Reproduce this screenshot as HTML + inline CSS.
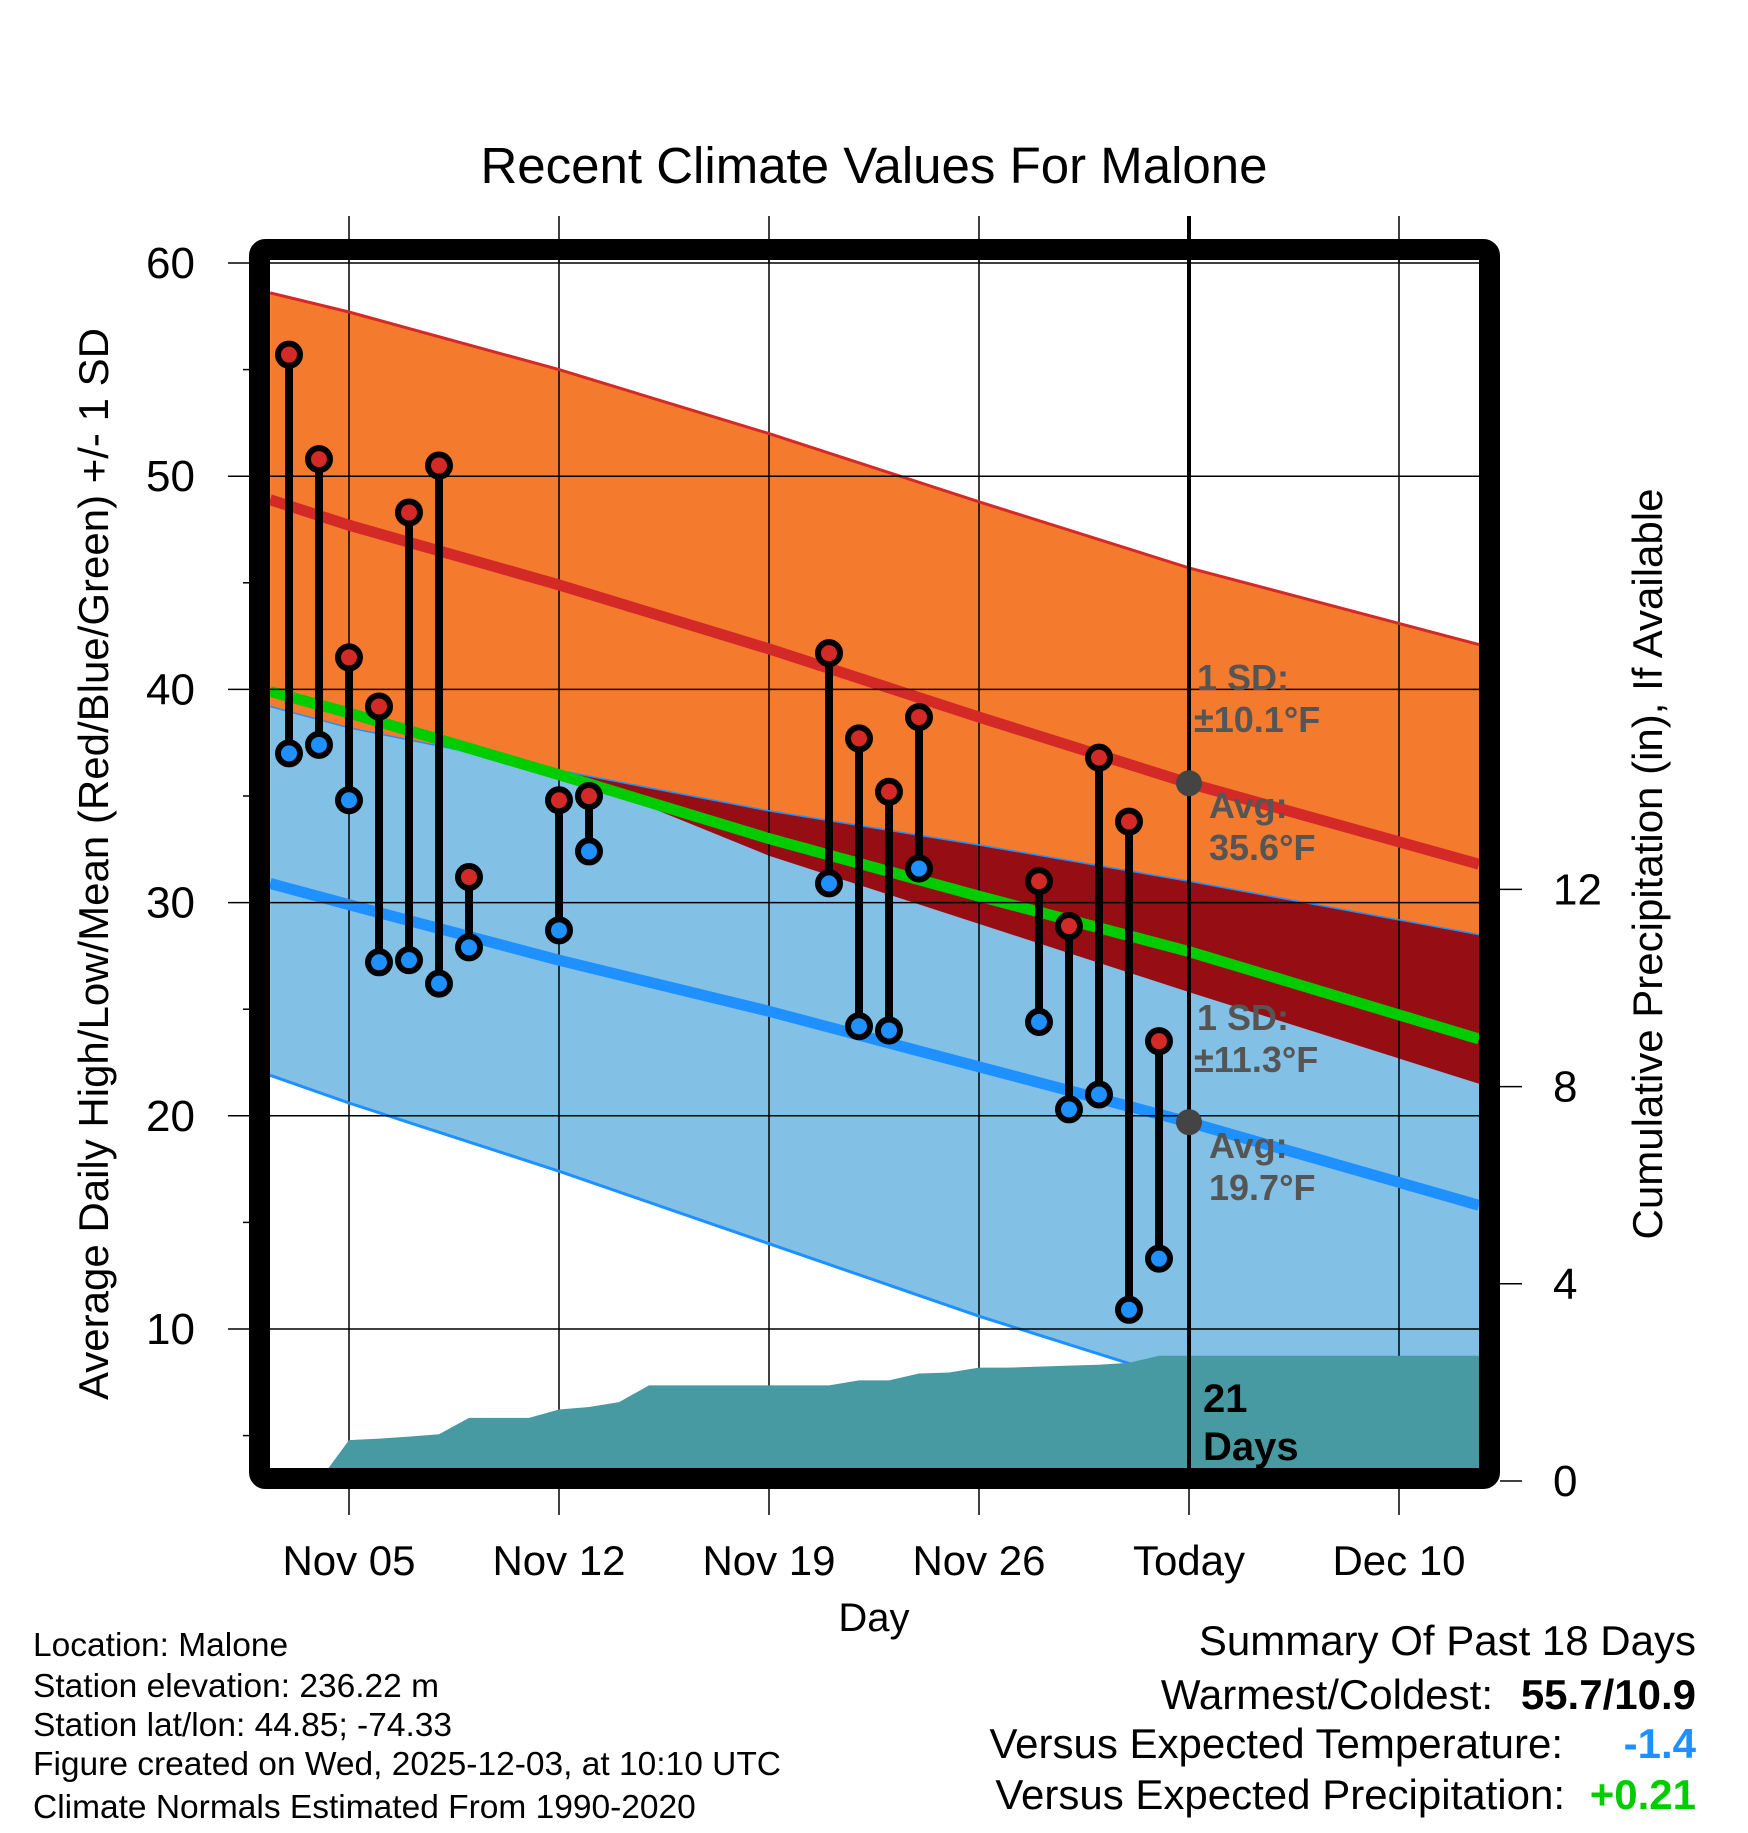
<!DOCTYPE html>
<html><head><meta charset="utf-8"><style>
body{margin:0;background:#fff}
svg text{font-family:"Liberation Sans",sans-serif}
</style></head><body>
<svg id="chart" width="1748" height="1828" viewBox="0 0 1748 1828" xmlns="http://www.w3.org/2000/svg">
<defs><clipPath id="plotclip"><rect x="270" y="260" width="1209" height="1219"/></clipPath></defs>
<g id="clipped" clip-path="url(#plotclip)"><g id="bands"></g><g id="grid"></g><g id="lines"></g><g id="precip"></g></g>
<g id="marks"></g><g id="obs"></g><g id="frame"></g><g id="labels"></g>
</svg>
<script>
// days relative to Nov 05
const normDays=[-2.63,0,7,14,21,28,37.7];
const hiUp=[58.6,57.7,55.0,52.0,48.8,45.7,42.1];
const hiMean=[48.9,47.7,44.9,41.9,38.7,35.6,31.8];
const hiLo=[39.8,38.8,36.3,32.2,29.0,25.8,21.5];
const meanT=[39.9,38.9,36.0,33.0,30.3,27.7,23.6];
const loUp=[39.2,38.2,36.2,34.3,32.7,31.0,28.5];
const loMean=[30.9,29.9,27.3,24.9,22.3,19.7,15.8];
const loLo=[21.9,20.6,17.4,14.0,10.6,7.5,1.5];
const obsDays=[-2,-1,0,1,2,3,4,7,8,16,17,18,19,23,24,25,26,27];
const obsHigh=[55.7,50.8,41.5,39.2,48.3,50.5,31.2,34.8,35.0,41.7,37.7,35.2,38.7,31.0,28.9,36.8,33.8,23.5];
const obsLow=[37.0,37.4,34.8,27.2,27.3,26.2,27.9,28.7,32.4,30.9,24.2,24.0,31.6,24.4,20.3,21.0,10.9,13.3];
const precipDays=[-2,-1,0,1,2,3,4,5,6,7,8,9,10,11,12,13,14,15,16,17,18,19,20,21,22,23,24,25,26,27,28,37.7];
const precipVals=[0,0,0.83,0.86,0.9,0.95,1.28,1.28,1.28,1.45,1.5,1.6,1.94,1.94,1.94,1.94,1.94,1.94,1.94,2.04,2.04,2.18,2.2,2.3,2.3,2.32,2.34,2.36,2.4,2.54,2.54,2.54];
const yTicks=[10,20,30,40,50,60];
const pTicks=[0,4,8,12];
const xTickDays=[0,7,14,21,28,35];
const xTickLabels=["Nov 05","Nov 12","Nov 19","Nov 26","Today","Dec 10"];

const NS="http://www.w3.org/2000/svg";
const L=270,R=1479,T=260,B=1479;
const X=d=>349+d*30;
const Y=v=>263+(60-v)*21.32;
const P=v=>1481-v*49.3;
function mk(parent,tag,attrs,text){const e=document.createElementNS(NS,tag);for(const k in attrs)e.setAttribute(k,attrs[k]);if(text!==undefined)e.textContent=text;document.getElementById(parent).appendChild(e);return e;}
const pts=(arr)=>normDays.map((d,i)=>[Math.max(L,Math.min(R,X(d))),Y(arr[i])]);
const toStr=a=>a.map(p=>p[0].toFixed(1)+','+p[1].toFixed(1)).join(' ');
const rev=a=>a.slice().reverse();

let e;
e=mk('bands','polygon',{points:toStr(pts(hiUp).concat(rev(pts(loUp)))),fill:'#f47a2e'});

e=mk('bands','polygon',{points:toStr(pts(loUp).concat(rev(pts(loLo)))),fill:'#82c0e6'});

const ovTop=pts(loUp), ovBot=normDays.map((d,i)=>[Math.max(L,Math.min(R,X(d))),Y(Math.min(hiLo[i],loUp[i]))]);
e=mk('bands','polygon',{points:toStr(ovTop.concat(rev(ovBot))),fill:'#960e14'});


// grid
yTicks.forEach(v=>{e=mk('marks','line',{x1:228,x2:R,y1:Y(v),y2:Y(v),stroke:'#000','stroke-width':1.5});

e=mk('labels','text',{x:195,y:Y(v)+15,'font-size':44,'text-anchor':'end'},String(v));
});
[15,25,35,45,55,5].forEach(v=>{e=mk('marks','line',{x1:243,x2:253,y1:Y(v),y2:Y(v),stroke:'#000','stroke-width':1.5});
});
xTickDays.forEach((d,i)=>{
 if(i!==4){e=mk('grid','line',{x1:X(d),x2:X(d),y1:216,y2:B,stroke:'#000','stroke-width':1.5});
 
 e=mk('marks','line',{x1:X(d),x2:X(d),y1:216,y2:262,stroke:'#000','stroke-width':1.5});
 }
 e=mk('frame','line',{x1:X(d),x2:X(d),y1:1489,y2:1515,stroke:'#000','stroke-width':1.5});
 
 e=mk('labels','text',{x:X(d),y:1575,'font-size':42,'text-anchor':'middle'},xTickLabels[i]);
 });
pTicks.forEach(v=>{e=mk('frame','line',{x1:1500,x2:1522,y1:P(v),y2:P(v),stroke:'#000','stroke-width':1.5});

e=mk('labels','text',{x:1553,y:P(v)+15,'font-size':44},String(v));
});

// lines
function line(arr,col,w,name){e=mk('lines','polyline',{points:toStr(pts(arr)),fill:'none',stroke:col,'stroke-width':w});
}
line(hiUp,'#d42a27',3,'high-plus-sd-line');
line(loLo,'#1e90ff',3,'low-minus-sd-line');
line(loUp,'#1e90ff',1.5,'low-plus-sd-line');
line(meanT,'#00cc00',11,'mean-temp-line');
line(hiMean,'#d42a27',11,'avg-high-line');
line(loMean,'#1e90ff',11,'avg-low-line');

// precip
const pp=precipDays.map((d,i)=>[Math.min(R,X(d)),Math.max(T,P(precipVals[i]))]);
const ppoly=[[L,B],[L,pp[0][1]]].concat(pp,[[R,pp[pp.length-1][1]],[R,B]]);
e=mk('precip','polygon',{points:toStr(ppoly),fill:'#489aa2'});


// today line
e=mk('marks','line',{x1:X(28),x2:X(28),y1:216,y2:B,stroke:'#000','stroke-width':4});

[35.6,19.7].forEach(v=>{e=mk('marks','circle',{cx:X(28),cy:Y(v),r:13,fill:'#444'});
});

// obs
obsDays.forEach((d,i)=>{
 e=mk('obs','line',{x1:X(d),x2:X(d),y1:Y(obsHigh[i]),y2:Y(obsLow[i]),stroke:'#000','stroke-width':8});
 
 e=mk('obs','circle',{cx:X(d),cy:Y(obsHigh[i]),r:11,fill:'#d42a27',stroke:'#000','stroke-width':6});
 
 e=mk('obs','circle',{cx:X(d),cy:Y(obsLow[i]),r:11,fill:'#1e90ff',stroke:'#000','stroke-width':6});
 });

// frame
e=mk('frame','rect',{x:259.5,y:249.5,width:1230,height:1229,fill:'none',stroke:'#000','stroke-width':21,rx:6});


// annotations
function txt(x,y,s,str,attrs,name){const a=Object.assign({x:x,y:y,'font-size':s},attrs||{});e=mk('labels','text',a,str);
return e;}
const g={'font-weight':'bold',fill:'#555'};
txt(1197,690,36,'1 SD:',g,'high-sd-label');
txt(1194,732,36,'±10.1°F',g,'high-sd-value');
txt(1209,818,36,'Avg:',g,'high-avg-label');
txt(1209,860,36,'35.6°F',g,'high-avg-value');
txt(1197,1030,36,'1 SD:',g,'low-sd-label');
txt(1194,1072,36,'±11.3°F',g,'low-sd-value');
txt(1209,1158,36,'Avg:',g,'low-avg-label');
txt(1209,1200,36,'19.7°F',g,'low-avg-value');
txt(1203,1412,40,'21',{'font-weight':'bold'},'days-count');
txt(1203,1460,40,'Days',{'font-weight':'bold'},'days-label');
txt(874,183,51,'Recent Climate Values For Malone',{'text-anchor':'middle'},'chart-title');
txt(874,1631,40,'Day',{'text-anchor':'middle'},'x-axis-title');
txt(0,0,42,'Average Daily High/Low/Mean (Red/Blue/Green) +/- 1 SD',{'text-anchor':'middle',transform:'translate(108,864) rotate(-90)'},'y-axis-title');
txt(0,0,42,'Cumulative Precipitation (in), If Available',{'text-anchor':'middle',transform:'translate(1662,864) rotate(-90)'},'precip-axis-title');
const info=['Location: Malone','Station elevation: 236.22 m','Station lat/lon: 44.85; -74.33','Figure created on Wed, 2025-12-03, at 10:10 UTC','Climate Normals Estimated From 1990-2020'];
const infoY=[1656,1697,1736,1775,1818];
info.forEach((s,i)=>txt(33,infoY[i],33.5,s,{},'station-info-line'));
txt(1696,1655,42,'Summary Of Past 18 Days',{'text-anchor':'end'},'summary-title');
txt(1493,1709,42,'Warmest/Coldest:',{'text-anchor':'end'},'warmest-coldest-label');
txt(1696,1709,42,'55.7/10.9',{'text-anchor':'end','font-weight':'bold'},'warmest-coldest-value');
txt(1563,1758,42,'Versus Expected Temperature:',{'text-anchor':'end'},'temp-departure-label');
txt(1696,1758,42,'-1.4',{'text-anchor':'end','font-weight':'bold',fill:'#1e90ff'},'temp-departure-value');
txt(1565,1809,42,'Versus Expected Precipitation:',{'text-anchor':'end'},'precip-departure-label');
txt(1696,1809,42,'+0.21',{'text-anchor':'end','font-weight':'bold',fill:'#00cc00'},'precip-departure-value');
</script>
</body></html>
